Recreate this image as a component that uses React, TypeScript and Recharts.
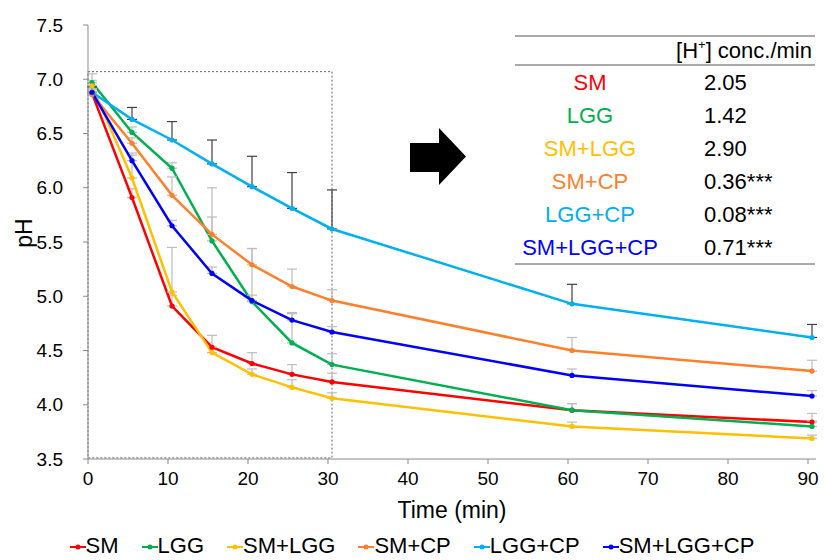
import React from 'react';
import {
  LineChart, Line, XAxis, YAxis, ErrorBar, ReferenceArea, Label,
} from 'recharts';

// sampling times (min) as plotted
const times = [0.5, 5.5, 10.5, 15.5, 20.5, 25.5, 30.5, 60.5, 90.5];

// pH values per group
const smPH = [6.87, 5.91, 4.91, 4.53, 4.38, 4.28, 4.21, 3.95, 3.84];
const lggPH = [6.97, 6.51, 6.18, 5.51, 4.95, 4.57, 4.37, 3.95, 3.8];
const smLggPH = [6.94, 6.09, 5.04, 4.48, 4.28, 4.16, 4.06, 3.8, 3.69];
const smCpPH = [6.86, 6.41, 5.93, 5.57, 5.29, 5.09, 4.96, 4.5, 4.31];
const lggCpPH = [6.88, 6.63, 6.44, 6.22, 6.01, 5.81, 5.62, 4.93, 4.62];
const smLggCpPH = [6.88, 6.25, 5.65, 5.21, 4.96, 4.78, 4.67, 4.27, 4.08];

// upper error bars (SD)
const smErr = [0.05, 0.08, 0.1, 0.11, 0.1, 0.09, 0.08, 0.06, 0.08];
const lggErr = [0.08, 0.05, 0.05, 0.22, 0.49, 0.28, 0.1, 0.06, 0.05];
const smLggErr = [0.05, 0.23, 0.41, 0.05, 0.05, 0.07, 0.05, 0.04, 0.03];
const smCpErr = [0.05, 0.05, 0.17, 0.43, 0.15, 0.16, 0.1, 0.12, 0.1];
const lggCpErr = [0.05, 0.11, 0.17, 0.22, 0.28, 0.33, 0.36, 0.18, 0.12];
const smLggCpErr = [0.03, 0.05, 0.05, 0.06, 0.05, 0.06, 0.05, 0.06, 0.05];

const xTicks = [0, 10, 20, 30, 40, 50, 60, 70, 80, 90];
const yTicks = [3.5, 4.0, 4.5, 5.0, 5.5, 6.0, 6.5, 7.0, 7.5];

// table: [H+] conc./min
const rateValues = ['2.05', '1.42', '2.90', '0.36***', '0.08***', '0.71***'];

const series = [
  { key: 'sm', name: 'SM', color: '#FF0000', values: smPH, err: smErr, errColor: '#BDBDBD' },
  { key: 'lgg', name: 'LGG', color: '#00B050', values: lggPH, err: lggErr, errColor: '#BDBDBD' },
  { key: 'smLgg', name: 'SM+LGG', color: '#FFC000', values: smLggPH, err: smLggErr, errColor: '#BDBDBD' },
  { key: 'smCp', name: 'SM+CP', color: '#FF7F2A', values: smCpPH, err: smCpErr, errColor: '#BDBDBD' },
  { key: 'lggCp', name: 'LGG+CP', color: '#00B0F0', values: lggCpPH, err: lggCpErr, errColor: '#404040' },
  { key: 'smLggCp', name: 'SM+LGG+CP', color: '#0000FF', values: smLggCpPH, err: smLggCpErr, errColor: '#BDBDBD' },
];

const data = times.map((t, i) => {
  const row: any = { time: t };
  series.forEach(s => {
    row[s.key] = s.values[i];
    row[s.key + 'Err'] = [0, s.err[i]];
  });
  return row;
});

const FONT = '"Liberation Sans", Arial, sans-serif';
const AXIS = '#8a8a8a';

export default function App() {
  return (
    <div style={{ position: 'absolute', left: 0, top: 0, width: 824, height: 560, background: '#fff', fontFamily: FONT }}>
      <LineChart width={824} height={560} data={data} margin={{ top: 25, right: 8, left: 0, bottom: 51 }}>
        <XAxis
          type="number"
          dataKey="time"
          domain={[0, 91]}
          ticks={xTicks}
          tickSize={5}
          tickMargin={8}
          stroke={AXIS}
          tick={{ fill: '#000', fontSize: 19, fontFamily: FONT }}
          height={50}
        >
          <Label
            content={() => (
              <text x={452} y={518} textAnchor="middle" fontSize={23} fontFamily={FONT} fill="#000">Time (min)</text>
            )}
          />
        </XAxis>
        <YAxis
          type="number"
          domain={[3.5, 7.5]}
          ticks={yTicks}
          tickFormatter={(v: number) => v.toFixed(1)}
          tickSize={5}
          tickMargin={20}
          stroke={AXIS}
          width={88}
          tick={{ fill: '#000', fontSize: 19, fontFamily: FONT }}
        >
          <Label
            content={() => (
              <text x={32} y={233} transform="rotate(-90 32 233)" textAnchor="middle" fontSize={23} fontFamily={FONT} fill="#000">pH</text>
            )}
          />
        </YAxis>
        <ReferenceArea x1={0} x2={30.5} y1={3.51} y2={7.07} fill="none" stroke="#666" strokeDasharray="2 2" strokeWidth={1} ifOverflow="visible" />
        {series.map(s => (
          <Line
            key={s.key}
            dataKey={s.key}
            name={s.name}
            stroke={s.color}
            strokeWidth={2.5}
            dot={{ r: 2.6, fill: s.color, stroke: 'none' }}
            isAnimationActive={false}
          >
            <ErrorBar dataKey={s.key + 'Err'} direction="y" width={5} stroke={s.errColor} strokeWidth={1.2} />
          </Line>
        ))}
      </LineChart>

      <svg width={824} height={560} style={{ position: 'absolute', left: 0, top: 0, pointerEvents: 'none' }}>
        {/* arrow */}
        <polygon points="410,143 439,143 439,128 466,156.5 439,185 439,172 410,172" fill="#000" />
        {/* table */}
        <line x1={515} x2={815} y1={36} y2={36} stroke="#555" strokeWidth={1} />
        <line x1={515} x2={815} y1={65} y2={65} stroke="#555" strokeWidth={1} />
        <line x1={515} x2={815} y1={264} y2={264} stroke="#555" strokeWidth={1} />
        <text x={812} y={58} textAnchor="end" fontSize={22} fontFamily={FONT} fill="#000">
          [H<tspan fontSize={13} dy={-9}>+</tspan><tspan dy={9}>] conc./min</tspan>
        </text>
        {series.map((s, i) => (
          <g key={s.key}>
            <text x={590} y={90 + i * 33} textAnchor="middle" fontSize={22} fontFamily={FONT} fill={s.color}>{s.name}</text>
            <text x={704} y={90 + i * 33} fontSize={22} fontFamily={FONT} fill="#000">{rateValues[i]}</text>
          </g>
        ))}
      </svg>

      <div style={{ position: 'absolute', left: 0, top: 535, width: 824, display: 'flex', justifyContent: 'center', gap: 23, fontSize: 22, lineHeight: '22px', color: '#000' }}>
        {series.map(s => (
          <div key={s.key} style={{ display: 'flex', alignItems: 'center' }}>
            <svg width={16} height={10} style={{ marginTop: 2 }}>
              <line x1={0} x2={16} y1={5} y2={5} stroke={s.color} strokeWidth={2} />
              <circle cx={8} cy={5} r={2.5} fill={s.color} />
            </svg>
            <span>{s.name}</span>
          </div>
        ))}
      </div>
    </div>
  );
}
